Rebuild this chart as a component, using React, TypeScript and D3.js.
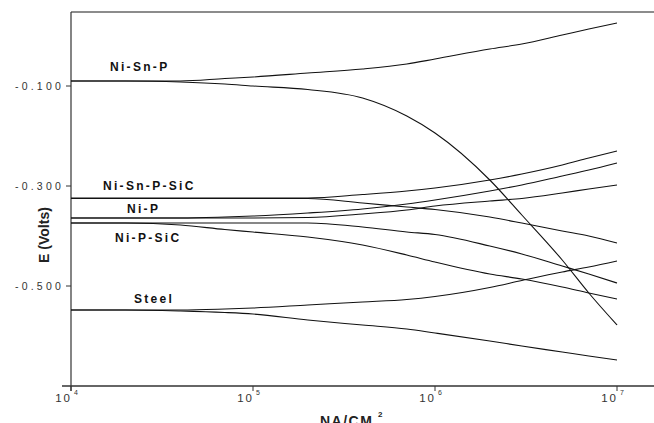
import React from 'react'
import * as d3 from 'd3'

// current density (NA/CM^2) sample points shared by all curves
const density = [1e4, 2e4, 4e4, 7e4, 1e5, 2e5, 4e5, 7e5, 1e6, 2e6, 3e6, 5e6, 7e6, 1e7]

// potential E (Volts), two branches per coating
const niSnPUp = [-0.09, -0.09, -0.09, -0.085, -0.082, -0.074, -0.066, -0.056, -0.046, -0.026, -0.016, 0.002, 0.014, 0.026]
const niSnPDown = [-0.09, -0.09, -0.092, -0.096, -0.1, -0.107, -0.124, -0.16, -0.194, -0.288, -0.358, -0.448, -0.514, -0.578]
const niSnPSiCUp = [-0.324, -0.324, -0.324, -0.324, -0.324, -0.324, -0.317, -0.31, -0.304, -0.288, -0.276, -0.258, -0.244, -0.23]
const niSnPSiCDown = [-0.325, -0.325, -0.325, -0.325, -0.325, -0.325, -0.334, -0.342, -0.347, -0.362, -0.374, -0.39, -0.4, -0.414]
const niPUp = [-0.364, -0.364, -0.364, -0.362, -0.36, -0.354, -0.346, -0.336, -0.328, -0.31, -0.298, -0.28, -0.268, -0.254]
const niPDown = [-0.364, -0.364, -0.364, -0.364, -0.364, -0.363, -0.356, -0.348, -0.34, -0.33, -0.325, -0.314, -0.306, -0.298]
const niPSiCUp = [-0.374, -0.374, -0.374, -0.374, -0.374, -0.374, -0.382, -0.392, -0.397, -0.42, -0.436, -0.46, -0.476, -0.494]
const niPSiCDown = [-0.374, -0.374, -0.378, -0.387, -0.392, -0.402, -0.418, -0.438, -0.452, -0.476, -0.486, -0.502, -0.514, -0.526]
const steelUp = [-0.548, -0.548, -0.548, -0.546, -0.544, -0.538, -0.532, -0.527, -0.521, -0.503, -0.489, -0.472, -0.462, -0.45]
const steelDown = [-0.548, -0.548, -0.55, -0.553, -0.556, -0.568, -0.578, -0.586, -0.594, -0.61, -0.62, -0.632, -0.64, -0.648]

const coatings = ['Ni-Sn-P', 'Ni-Sn-P-SiC', 'Ni-P', 'Ni-P-SiC', 'Steel']
const branches = [
  [niSnPUp, niSnPDown],
  [niSnPSiCUp, niSnPSiCDown],
  [niPUp, niPDown],
  [niPSiCUp, niPSiCDown],
  [steelUp, steelDown],
]

const yTicks = [-0.1, -0.3, -0.5]
const xTicks = [1e4, 1e5, 1e6, 1e7]

const W = 654
const H = 423
const font = '"Liberation Sans", Arial, sans-serif'

export default function App() {
  const x = d3.scaleLog().domain([1e4, 1e7]).range([71, 617])
  const y = d3.scaleLinear().domain([-0.7, 0.048]).range([386, 12])

  const line = d3.line<number>()
    .x((_, i) => x(density[i]))
    .y(d => y(d))
    .curve(d3.curveMonotoneX)

  // label placement: [x offset from axis, dy from the curve start]
  const labelPos = [
    [39, -10],
    [32, -8],
    [56, -5],
    [44, 19],
    [63, -7],
  ]

  return (
    <svg width={W} height={H} style={{ position: 'absolute', left: 0, top: 0, background: '#fff' }}>
      {/* frame */}
      <line x1={x(1e4)} x2={W} y1={y(0.048)} y2={y(0.048)} stroke="#666" strokeWidth={1.6} />
      <line x1={62} x2={W} y1={y(-0.7)} y2={y(-0.7)} stroke="#666" strokeWidth={1.8} />
      <line x1={x(1e4)} x2={x(1e4)} y1={y(0.048)} y2={391} stroke="#333" strokeWidth={1.2} />

      {yTicks.map(t => (
        <g key={t}>
          <line x1={66} x2={x(1e4)} y1={y(t)} y2={y(t)} stroke="#333" strokeWidth={1} />
          <text x={64} y={y(t) + 3.5} textAnchor="end" fontFamily={font} fontSize={10.5}
            letterSpacing={3.2} fill="#333">{t.toFixed(3)}</text>
        </g>
      ))}

      {xTicks.map(t => (
        <g key={t}>
          <line x1={x(t)} x2={x(t)} y1={y(-0.7)} y2={y(-0.7) + 5} stroke="#333" strokeWidth={1} />
          <text x={x(t) + 1} y={401.5} textAnchor="end" fontFamily={font} fontSize={11.5}
            letterSpacing={2} fill="#333">10</text>
          <text x={x(t) + 3} y={394.5} fontFamily={font} fontSize={7} fill="#333">
            {Math.round(Math.log10(t))}
          </text>
        </g>
      ))}

      <text transform="translate(49,235) rotate(-90)" textAnchor="middle" fontFamily={font}
        fontSize={14} fontWeight="bold" fill="#222">E (Volts)</text>

      <text x={320} y={426} fontFamily={font} fontSize={14} fontWeight="bold" letterSpacing={1.5}
        fill="#222">NA/CM</text>
      <text x={378} y={417} fontFamily={font} fontSize={8} fontWeight="bold" fill="#222">2</text>

      {branches.map((pair, i) => (
        <g key={coatings[i]}>
          {pair.map((vals, j) => (
            <path key={j} d={line(vals) ?? ''} fill="none" stroke="#111" strokeWidth={1.1} />
          ))}
          <text x={x(1e4) + labelPos[i][0]} y={y(pair[0][0]) + labelPos[i][1]} fontFamily={font}
            fontSize={12} fontWeight="bold" letterSpacing={2.3} fill="#111">{coatings[i]}</text>
        </g>
      ))}
    </svg>
  )
}
